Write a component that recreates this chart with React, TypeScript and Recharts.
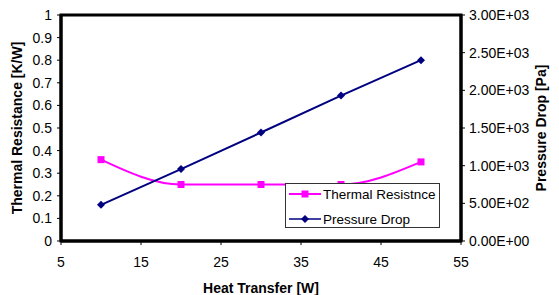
import React from 'react';
import { ComposedChart, Line, XAxis, YAxis, ReferenceArea, Legend } from 'recharts';

const heatTransfer = [10, 20, 30, 40, 50];
const thermalResistance = [0.36, 0.25, 0.25, 0.25, 0.35];
const pressureDrop = [480, 955, 1440, 1930, 2400];
const xTicks = [5, 15, 25, 35, 45, 55];
const leftTicks = [0, 0.1, 0.2, 0.3, 0.4, 0.5, 0.6, 0.7, 0.8, 0.9, 1];
const rightTicks = [0, 500, 1000, 1500, 2000, 2500, 3000];

const data = heatTransfer.map((x, i) => ({ x, tr: thermalResistance[i], pd: pressureDrop[i] }));

const PINK = '#FF00FF';
const NAVY = '#000080';
const FONT = 'Arial, "Liberation Sans", sans-serif';

const sci = (v: number) => {
  const s = v.toExponential(2).toUpperCase();
  const [m, e] = s.split('E');
  const sign = e[0] === '-' ? '-' : '+';
  const digits = e.replace(/[+-]/, '').padStart(2, '0');
  return `${m}E${sign}${digits}`;
};

const Square = (props: any) => {
  const { cx, cy } = props;
  if (cx == null || cy == null) return null;
  return <rect key={`s${cx}`} x={cx - 3.5} y={cy - 3.5} width={7} height={7} fill={PINK} />;
};
const Diamond = (props: any) => {
  const { cx, cy } = props;
  if (cx == null || cy == null) return null;
  return (
    <polygon key={`d${cx}`} points={`${cx},${cy - 4} ${cx + 4},${cy} ${cx},${cy + 4} ${cx - 4},${cy}`} fill={NAVY} />
  );
};

const LegendBox = () => (
  <div
    style={{
      width: 155,
      height: 45,
      border: '1px solid #333',
      background: '#fff',
      boxSizing: 'border-box',
      fontFamily: FONT,
      color: '#000',
    }}
  >
    <svg width={153} height={43} style={{ display: 'block' }}>
      <line x1={3} y1={10} x2={35} y2={10} stroke={PINK} strokeWidth={2} />
      <rect x={15.5} y={6.5} width={7} height={7} fill={PINK} />
      <text x={37} y={15} fontSize={13.5} fontFamily={FONT}>Thermal Resistnce</text>
      <line x1={3} y1={35} x2={35} y2={35} stroke={NAVY} strokeWidth={1.5} />
      <polygon points="19,31 23,35 19,39 15,35" fill={NAVY} />
      <text x={37} y={40} fontSize={13.5} fontFamily={FONT}>Pressure Drop</text>
    </svg>
  </div>
);

const tickStyle = { fill: '#000', fontSize: 14, fontFamily: FONT };
const titleStyle = { fontWeight: 'bold', fontSize: 14, fontFamily: FONT, fill: '#000' };

export default function App() {
  return (
    <div style={{ position: 'absolute', left: 0, top: 0, width: 559, height: 295, background: '#fff' }}>
      <ComposedChart width={559} height={295} data={data} margin={{ top: 15, right: 0, bottom: 0, left: 0 }}>
        <XAxis
          dataKey="x"
          type="number"
          domain={[5, 55]}
          ticks={xTicks}
          interval={0}
          tickSize={4}
          tickMargin={12}
          height={54}
          axisLine={{ stroke: '#000', strokeWidth: 3 }}
          tickLine={{ stroke: '#000' }}
          tick={tickStyle}
          label={{ value: 'Heat Transfer [W]', position: 'center', dy: 20, style: titleStyle }}
        />
        <YAxis
          yAxisId="left"
          domain={[0, 1]}
          ticks={leftTicks}
          interval={0}
          width={61}
          tickSize={4}
          tickMargin={5}
          axisLine={{ stroke: '#000', strokeWidth: 3 }}
          tickLine={{ stroke: '#000' }}
          tick={tickStyle}
          label={{ value: 'Thermal Resistance [K/W]', angle: -90, position: 'center', dx: -13, style: titleStyle }}
        />
        <YAxis
          yAxisId="right"
          orientation="right"
          domain={[0, 3000]}
          ticks={rightTicks}
          interval={0}
          width={98}
          tickSize={4}
          tickMargin={4}
          tickFormatter={sci}
          axisLine={{ stroke: '#000', strokeWidth: 3 }}
          tickLine={{ stroke: '#000' }}
          tick={tickStyle}
          label={{ value: 'Pressure Drop [Pa]', angle: -90, position: 'center', dx: 31, style: titleStyle }}
        />
        <ReferenceArea
          yAxisId="left"
          x1={5}
          x2={55}
          y1={0}
          y2={1}
          fill="none"
          stroke="#000"
          strokeWidth={3}
          ifOverflow="visible"
        />
        <Line
          yAxisId="left"
          dataKey="tr"
          type="monotone"
          stroke={PINK}
          strokeWidth={2}
          dot={<Square />}
          activeDot={false}
          isAnimationActive={false}
        />
        <Line
          yAxisId="right"
          dataKey="pd"
          type="linear"
          stroke={NAVY}
          strokeWidth={2}
          dot={<Diamond />}
          activeDot={false}
          isAnimationActive={false}
        />
        <Legend
          layout="vertical"
          align="center"
          verticalAlign="middle"
          content={() => <LegendBox />}
          wrapperStyle={{ position: 'absolute', left: 285, top: 183, width: 155, height: 45 }}
        />
      </ComposedChart>
    </div>
  );
}
